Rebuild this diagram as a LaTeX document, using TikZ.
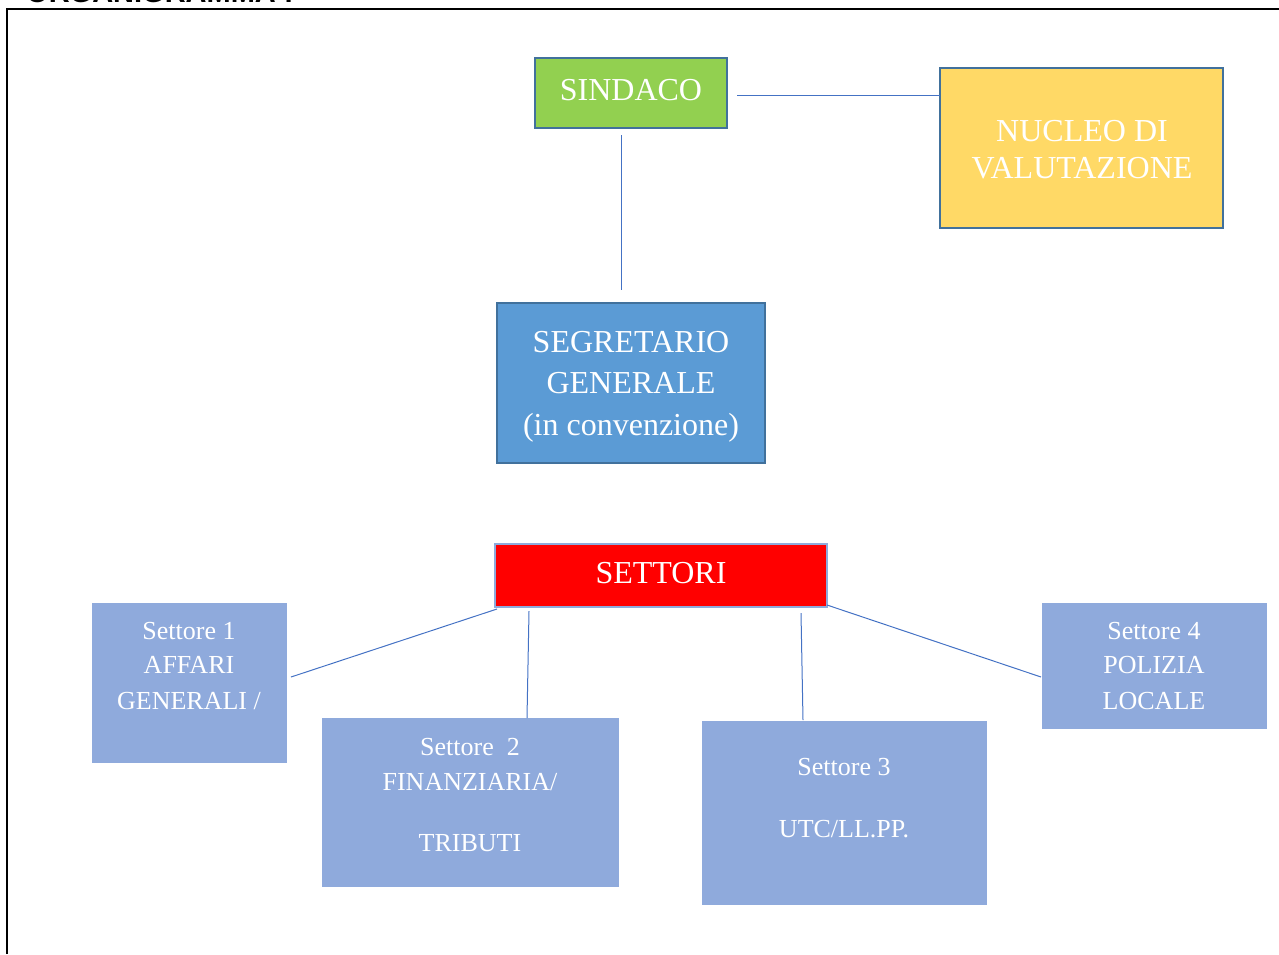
\documentclass[tikz,border=0pt]{standalone}
\usepackage{fontspec}
\setmainfont{Liberation Serif}
\newfontfamily\headfont{Liberation Sans}
\definecolor{sgreen}{HTML}{92D050}
\definecolor{syellow}{HTML}{FFD966}
\definecolor{sblue}{HTML}{5B9BD5}
\definecolor{sborder}{HTML}{41719C}
\definecolor{slight}{HTML}{8FAADC}
\definecolor{sline}{HTML}{4472C4}
\begin{document}
\begin{tikzpicture}[x=1pt,y=-1pt,
  topbox/.style={draw=sborder,line width=2pt},
  secbox/.style={fill=slight,draw=slight,line width=0.8pt},
  big/.style={anchor=base,text=white,inner sep=0pt,font=\fontsize{32}{38}\selectfont},
  small/.style={anchor=base,text=white,inner sep=0pt,font=\fontsize{26}{31}\selectfont},
  conn/.style={draw=sline,line width=1pt}]
\useasboundingbox (0,0) rectangle (1279,954);
\clip (0,0) rectangle (1279,954);
% heading (cut off at top)
\node[anchor=base west,inner sep=0pt,font=\headfont\bfseries\fontsize{29}{34}\selectfont] (title) at (26,2) {ORGANIGRAMMA :};
% frame
\draw[line width=2pt] (7,954) -- (7,9) -- (1279,9);
% boxes
\draw[topbox,fill=sgreen] (535,58) rectangle (727,128);
\coordinate (sindacoR) at (737,95);
\coordinate (sindacoB) at (621,135);
\node[big] (sindaco) at (631,100) {SINDACO};
\draw[topbox,fill=syellow] (940,68) rectangle (1223,228);
\coordinate (nucleoL) at (940,95);
\node[big] (nucleo1) at (1082,141.5) {NUCLEO DI};
\node[big] (nucleo2) at (1082,178.5) {VALUTAZIONE};
\draw[topbox,fill=sblue] (497,303) rectangle (765,463);
\coordinate (segrT) at (621,290);
\node[big] (segr1) at (631,352.5) {SEGRETARIO};
\node[big] (segr2) at (631,393.5) {GENERALE};
\node[big] (segr3) at (631,435.5) {(in convenzione)};
\draw[draw=slight,line width=2pt,fill=red] (495,544) rectangle (827,607);
\node[big] (settori) at (661,583.5) {SETTORI};
\coordinate (setBL) at (497,609);
\coordinate (setB2) at (529,611);
\coordinate (setB3) at (801,613);
\coordinate (setBR) at (827,605);
% sectors
\draw[secbox] (92,603) rectangle (286,762);
\coordinate (s1R) at (291,677);
\node[small] (s1a) at (189,639.6) {Settore 1};
\node[small] (s1b) at (189,673.6) {AFFARI};
\node[small] (s1c) at (189,709.6) {GENERALI /};
\draw[secbox] (322,718) rectangle (618,886);
\coordinate (s2T) at (527,718);
\node[small] (s2a) at (470,755.6) {Settore\ \ 2};
\node[small] (s2b) at (470,790.6) {FINANZIARIA/};
\node[small] (s2c) at (470,851.6) {TRIBUTI};
\draw[secbox] (702,721) rectangle (986,904);
\coordinate (s3T) at (803,720);
\node[small] (s3a) at (844,775.6) {Settore 3};
\node[small] (s3b) at (844,837.6) {UTC/LL.PP.};
\draw[secbox] (1042,603) rectangle (1266,728);
\coordinate (s4L) at (1041,677);
\node[small] (s4a) at (1154,639.6) {Settore 4};
\node[small] (s4b) at (1154,673.6) {POLIZIA};
\node[small] (s4c) at (1154,709.6) {LOCALE};
% connectors
\draw[conn] (sindacoR) -- (nucleoL);
\draw[conn] (sindacoB) -- (segrT);
\draw[conn] (setBL) -- (s1R);
\draw[conn] (setB2) -- (s2T);
\draw[conn] (setB3) -- (s3T);
\draw[conn] (setBR) -- (s4L);
\end{tikzpicture}
\end{document}
